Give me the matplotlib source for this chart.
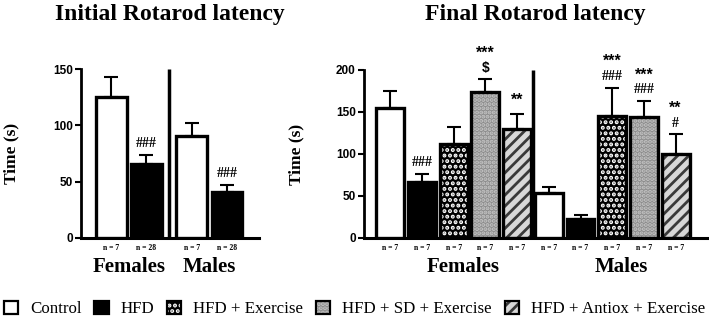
import matplotlib
matplotlib.use("Agg")
import matplotlib.pyplot as plt
from matplotlib.patches import Patch
import numpy as np

plt.rcParams['hatch.linewidth'] = 2.0

# ---- data ----
groups = ["Control", "HFD", "HFD + Exercise", "HFD + SD + Exercise", "HFD + Antiox + Exercise"]

init_means = [125.5, 65.8, 90.9, 41.0]
init_err = [17.1, 8.3, 11.6, 6.2]
init_groups = [0, 1, 0, 1]
init_n = ["n = 7", "n = 28", "n = 7", "n = 28"]
init_marks = [[], ["###"], [], ["###"]]

fin_f_means = [155.2, 66.5, 111.7, 173.5, 130.3]
fin_f_err = [20.2, 9.9, 20.6, 15.8, 17.4]
fin_m_means = [53.9, 23.0, 145.7, 143.8, 99.8]
fin_m_err = [6.7, 3.9, 33.3, 19.4, 23.8]
fin_n = ["n = 7"] * 10
# marks listed bottom-to-top
fin_marks = [[], ["###"], [], ["$", "***"], ["**"], [], [], ["###", "***"], ["###", "***"], ["#", "**"]]

sexes = ["Females", "Males"]

serif = "Liberation Serif"
sans = "Liberation Sans"

# styles per group: (facecolor, hatch, hatchcolor)
styles = [
    ("white", None, None),
    ("black", None, None),
    ("black", "...", "white"),
    ("#8c8c8c", "....", "#c4c4c4"),
    ("#d8d8d8", "///", "#3a3a3a"),
]

fig = plt.figure(figsize=(7.09, 3.19), dpi=100)
axL = fig.add_axes([81/709, 1-238/319, 178/709, 169/319])
axR = fig.add_axes([364/709, 1-238/319, 343/709, 168/319])

W = 0.88

def draw_bar(ax, x, h, g):
    fc, hatch, hc = styles[g]
    if hatch:
        ax.bar(x, h, W, color=fc, edgecolor=hc, hatch=hatch, linewidth=0, zorder=2)
        ax.bar(x, h, W, facecolor="none", edgecolor="black", linewidth=2.4, zorder=3)
    else:
        ax.bar(x, h, W, color=fc, edgecolor="black", linewidth=2.4, zorder=3)

def style_axes(ax, ymax, step, labx):
    for s in ["top", "right"]:
        ax.spines[s].set_visible(False)
    ax.spines["left"].set_linewidth(2)
    ax.spines["bottom"].set_linewidth(2.2)
    ax.set_ylim(0, ymax)
    ax.set_yticks(np.arange(0, ymax + 1, step))
    ax.tick_params(axis="y", width=1.5, length=4, pad=2)
    ax.tick_params(axis="x", length=0)
    ax.set_xticks([])
    for lab in ax.get_yticklabels():
        lab.set_fontfamily(sans)
        lab.set_fontweight("bold")
        lab.set_fontsize(8.5)
    ax.set_ylabel("Time (s)", fontfamily=serif, fontweight="bold", fontsize=12.5)
    ax.yaxis.set_label_coords(labx, 0.5)

def add_marks(ax, x, top, marks):
    for k, mk in enumerate(marks):
        fam = sans if "*" in mk or "$" in mk else serif
        fs = 11.5 if "*" in mk else 10
        off = 8 + 9.2 * k + (1.5 if "*" in mk else 0)
        ax.annotate(mk, (x, top), xytext=(0, off), textcoords="offset points", ha="center", va="center",
                    fontfamily=fam, fontweight="bold", fontsize=fs, annotation_clip=False)

# ---- left panel ----
xL = [0, 1, 2.3, 3.3]
for x, m, e, g in zip(xL, init_means, init_err, init_groups):
    draw_bar(axL, x, m, g)
    axL.errorbar(x, m, yerr=[[0], [e]], fmt="none", ecolor="black", elinewidth=1.5, capsize=5, capthick=1.5, zorder=1)
for x, m, e, mk in zip(xL, init_means, init_err, init_marks):
    add_marks(axL, x, m + e, mk)
for x, n in zip(xL, init_n):
    axL.annotate(n, (x, 0), xytext=(0, -7.5), textcoords="offset points", ha="center", va="center",
                 fontfamily=serif, fontweight="bold", fontsize=5.5, annotation_clip=False)
axL.plot([1.65, 1.65], [0, 150], color="black", lw=2.5, solid_capstyle="butt", zorder=4)
axL.set_xlim(-0.86, 4.21)
style_axes(axL, 150, 50, -0.348)
for xc, s in zip([(xL[0] + xL[1]) / 2, (xL[2] + xL[3]) / 2], sexes):
    axL.annotate(s, (xc, 0), xytext=(0, -21), textcoords="offset points", ha="center", va="center",
                 fontfamily=serif, fontweight="bold", fontsize=15, annotation_clip=False)
axL.set_title("Initial Rotarod latency", fontfamily=serif, fontweight="bold", fontsize=17, pad=35)

# ---- right panel ----
xR = np.arange(10)
means = fin_f_means + fin_m_means
errs = fin_f_err + fin_m_err
for i, (x, m, e) in enumerate(zip(xR, means, errs)):
    draw_bar(axR, x, m, i % 5)
    axR.errorbar(x, m, yerr=[[0], [e]], fmt="none", ecolor="black", elinewidth=1.5, capsize=5, capthick=1.5, zorder=1)
for x, m, e, mk in zip(xR, means, errs, fin_marks):
    add_marks(axR, x, m + e, mk)
for x, n in zip(xR, fin_n):
    axR.annotate(n, (x, 0), xytext=(0, -7.5), textcoords="offset points", ha="center", va="center",
                 fontfamily=serif, fontweight="bold", fontsize=5.5, annotation_clip=False)
axR.plot([4.5, 4.5], [0, 200], color="black", lw=2.5, solid_capstyle="butt", zorder=4)
axR.set_xlim(-0.83, 9.99)
style_axes(axR, 200, 50, -0.175)
for xc, s in zip([2.3, 7.3], sexes):
    axR.annotate(s, (xc, 0), xytext=(0, -21), textcoords="offset points", ha="center", va="center",
                 fontfamily=serif, fontweight="bold", fontsize=15, annotation_clip=False)
axR.set_title("Final Rotarod latency", fontfamily=serif, fontweight="bold", fontsize=17, pad=36)

# ---- legend ----
handles = []
for fc, hatch, hc in styles:
    if hatch:
        handles.append((Patch(facecolor=fc, edgecolor=hc, hatch=hatch, linewidth=0),
                        Patch(facecolor="none", edgecolor="black", linewidth=1.6)))
    else:
        handles.append(Patch(facecolor=fc, edgecolor="black", linewidth=1.6))
leg = fig.legend(handles, groups, loc="center", bbox_to_anchor=(0.5, 1 - 309/319), ncol=5, frameon=False,
                 prop={"family": serif, "size": 12.2}, handlelength=0.85, handleheight=0.85,
                 handletextpad=0.7, columnspacing=0.75, borderaxespad=0, borderpad=0)

fig.savefig("out.png", dpi=100)
